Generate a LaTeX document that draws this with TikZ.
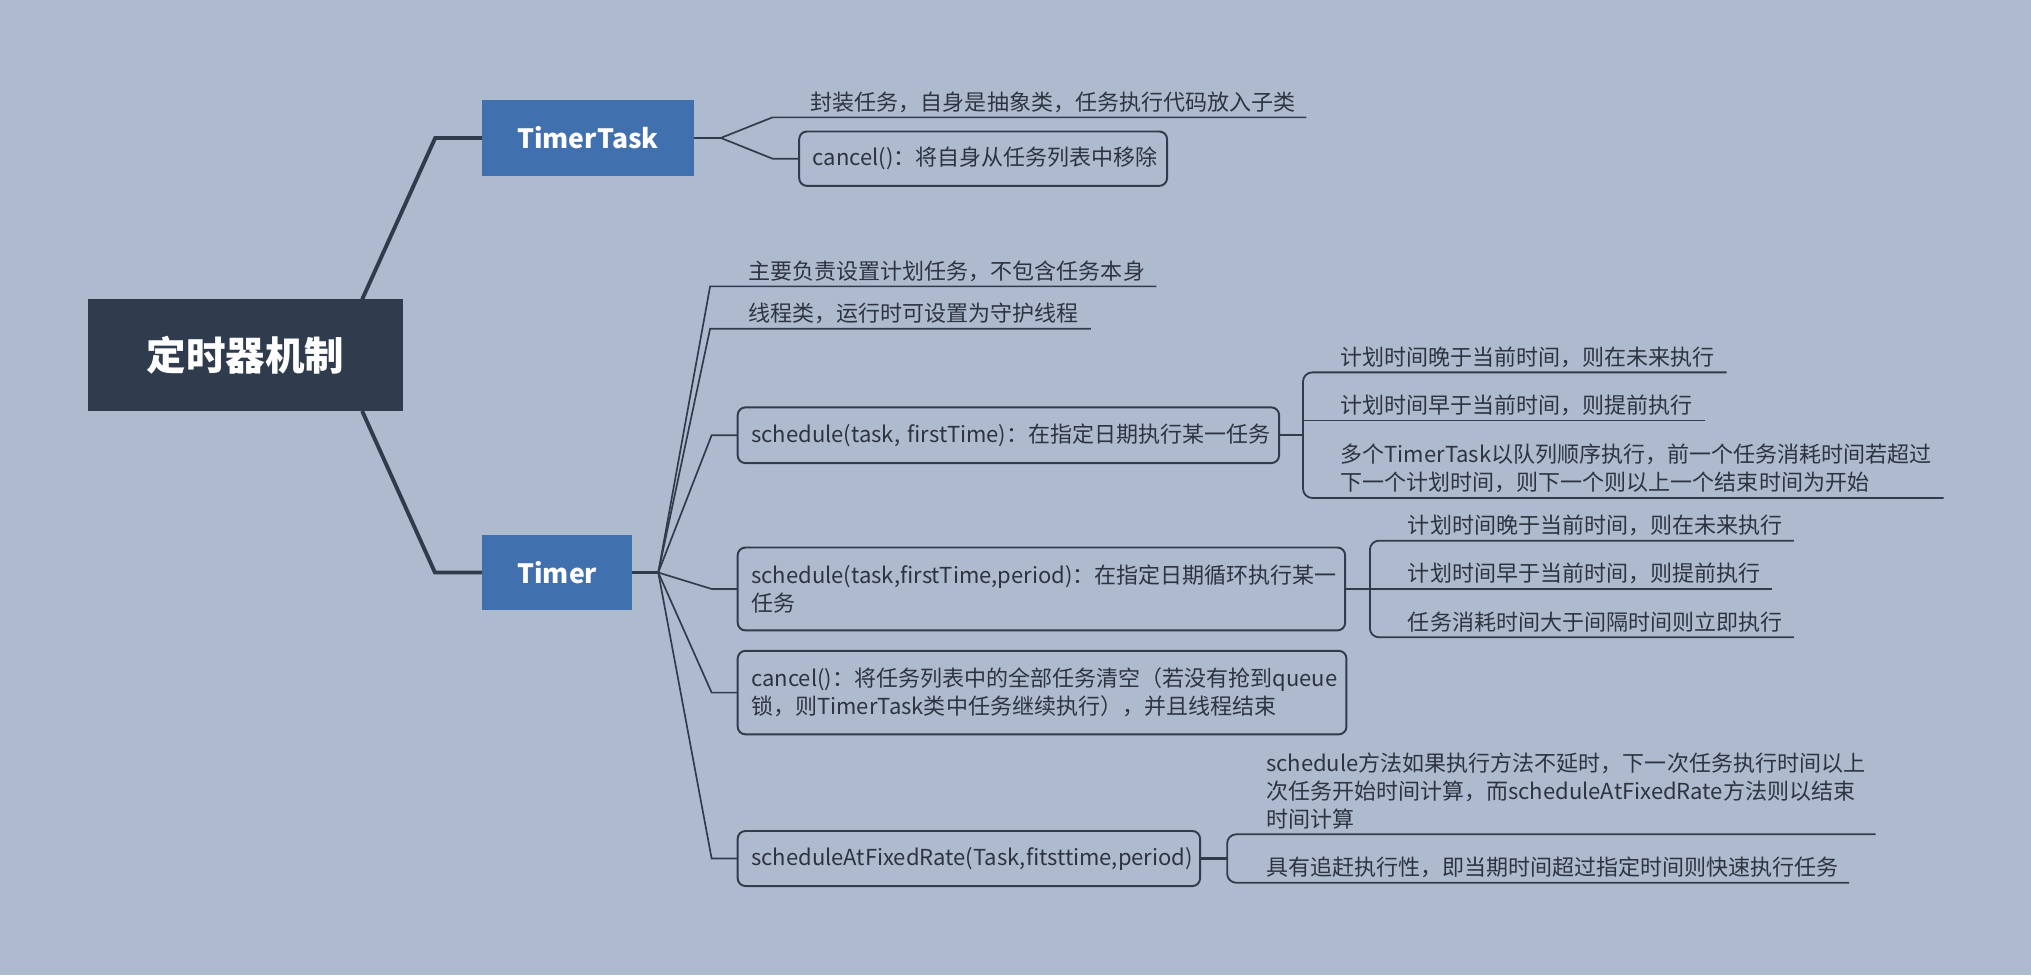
\documentclass[tikz,border=0pt]{standalone}
\usepackage{fontspec}
\setmainfont{Noto Sans CJK SC}
\definecolor{bg}{RGB}{174,187,207}
\definecolor{dk}{RGB}{47,60,77}
\definecolor{bl}{RGB}{65,112,174}
\definecolor{tx}{RGB}{45,52,64}
\begin{document}
\begin{tikzpicture}[x=1pt,y=-1pt,
  every node/.style={inner sep=0pt, outer sep=0pt},
  rootbox/.style={fill=dk, text=white, font=\fontsize{30.5}{36}\selectfont\bfseries, minimum width=243pt, minimum height=86pt},
  mainbox/.style={fill=bl, text=white, font=\fontsize{20.5}{26}\selectfont\bfseries, minimum height=58.5pt},
  leaf/.style={anchor=base west, align=left, text=tx, font=\fontsize{17}{21.5}\selectfont},
  box/.style={draw=dk, line width=1.5pt, rounded corners=6pt, anchor=west, align=left, text=tx, font=\fontsize{17}{21.5}\selectfont, inner xsep=10.5pt, inner ysep=0pt},
  thickline/.style={draw=dk, line width=3pt},
  thinline/.style={draw=dk, line width=1.3pt},
  brline/.style={draw=dk, line width=1.4pt, rounded corners=7pt},
]
\fill[bg] (0,0) rectangle (1568,753);
\useasboundingbox (0,0) rectangle (1568,753);

% main nodes
\node[rootbox] (root) at (189.5,274) {定时器机制};
\node[mainbox, minimum width=163.5pt] (tt) at (453.9,106.5) {TimerTask};
\node[mainbox, minimum width=116pt] (tm) at (430.2,442) {Timer};

% TimerTask children
\node[leaf] (t1) at (626,85.1) {封装任务，自身是抽象类，任务执行代码放入子类};
\node[box, text width=263pt, minimum height=42pt] (tc) at (617,122.5) {\mbox{cancel()：将自身从任务列表中移除}};

% Timer children
\node[leaf] (l1) at (578,215.6) {主要负责设置计划任务，不包含任务本身};
\node[leaf] (l2) at (578,248.3) {线程类，运行时可设置为守护线程};
\node[box, text width=397pt, minimum height=43pt] (s1) at (569.5,336) {\mbox{schedule(task, firstTime)：在指定日期执行某一任务}};
\node[box, text width=448pt, minimum height=64pt] (s2) at (569.5,454.7) {\mbox{schedule(task,firstTime,period)：在指定日期循环执行某一}\\\mbox{任务}};
\node[box, text width=449pt, minimum height=64.5pt] (cc) at (569.5,534.7) {\mbox{cancel()：将任务列表中的全部任务清空（若没有抢到queue}\\\mbox{锁，则TimerTask类中任务继续执行），并且线程结束}};
\node[box, text width=336pt, minimum height=42.5pt] (fx) at (569.5,662.8) {\mbox{scheduleAtFixedRate(Task,fitsttime,period)}};

% schedule 1 leaves
\node[leaf] (s1a) at (1035,282) {计划时间晚于当前时间，则在未来执行};
\node[leaf] (s1b) at (1035,319) {计划时间早于当前时间，则提前执行};
\node[leaf] (s1c) at (1035,378.7) {多个TimerTask以队列顺序执行，前一个任务消耗时间若超过\\下一个计划时间，则下一个则以上一个结束时间为开始};
% schedule 2 leaves
\node[leaf] (s2a) at (1087,411.7) {计划时间晚于当前时间，则在未来执行};
\node[leaf] (s2b) at (1087,449.2) {计划时间早于当前时间，则提前执行};
\node[leaf] (s2c) at (1087,486.5) {任务消耗时间大于间隔时间则立即执行};
% fixed rate leaves
\node[leaf] (fxa) at (977.5,638.5) {schedule方法如果执行方法不延时，下一次任务执行时间以上\\次任务开始时间计算，而scheduleAtFixedRate方法则以结束\\时间计算};
\node[leaf] (fxb) at (977.5,676) {具有追赶执行性，即当期时间超过指定时间则快速执行任务};

% coordinates
\coordinate (r1) at (279.6,231.1);
\coordinate (e1) at (336,106.5);
\coordinate (r2) at (279.6,317.3);
\coordinate (e2) at (335.8,442);
\coordinate (ttf) at (556.5,106.5);
\coordinate (t1e) at (1008.6,90.6);
\coordinate (tf) at (508.2,442);
\coordinate (l1e) at (892.8,221.1);
\coordinate (l2e) at (842.1,253.8);
\coordinate (s1f) at (1006,336);
\coordinate (s1ae) at (1333,287.5);
\coordinate (s1be) at (1316,324.6);
\coordinate (s1ce) at (1500.6,384.4);
\coordinate (s2f) at (1057.6,454.7);
\coordinate (s2ae) at (1385,417.4);
\coordinate (s2be) at (1368,454.7);
\coordinate (s2ce) at (1385,492);
\coordinate (fxf) at (947.4,662.8);
\coordinate (fxae) at (1448,644.1);
\coordinate (fxbe) at (1427.5,681.5);

% main connectors
\draw[thickline] (r1) -- (e1) -- (tt.west);
\draw[thickline] (r2) -- (e2) -- (tm.west);

% TimerTask fork
\draw[thinline, line width=1.8pt] (tt.east) -- (ttf);
\draw[thinline] (ttf) -- (596.4,90.6) -- (t1e);
\draw[thinline] (ttf) -- (596.4,122.5) -- (tc.west);

% Timer fan
\draw[thinline, line width=1.8pt] (tm.east) -- (tf);
\draw[thinline] (tf) -- (548.2,221.1) -- (l1e);
\draw[thinline] (tf) -- (548.2,253.8) -- (l2e);
\draw[thinline] (tf) -- (549.4,336) -- (s1.west);
\draw[thinline] (tf) -- (549.4,454.7) -- (s2.west);
\draw[thinline] (tf) -- (549.4,534.7) -- (cc.west);
\draw[thinline] (tf) -- (549.4,662.8) -- (fx.west);

% schedule 1 bracket
\draw[thinline, line width=1.8pt] (s1.east) -- (s1f);
\draw[brline] (s1ae) -| (s1f) |- (s1ce);
\draw[brline] (s1f |- s1be) -- (s1be);

% schedule 2 bracket
\draw[thinline] (s2.east) -- (s2be);
\draw[brline] (s2ae) -| (s2f) |- (s2ce);

% fixed-rate bracket
\draw[thinline, line width=1.8pt] (fx.east) -- (fxf);
\draw[brline] (fxae) -| (fxf) |- (fxbe);
\end{tikzpicture}
\end{document}
